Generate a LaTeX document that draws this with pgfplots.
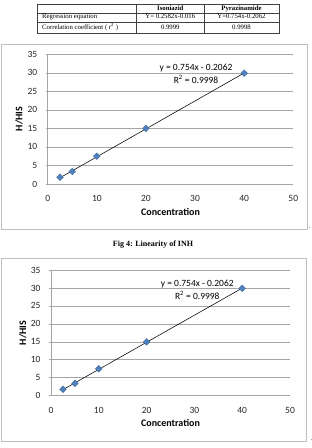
\documentclass[border=0pt]{standalone}
\usepackage{pgfplots}
\pgfplotsset{compat=1.18}
\usepackage{fontspec}
\setmainfont{Carlito}
\newfontfamily\tabfont{Liberation Serif}

\definecolor{markblue}{HTML}{4F81BD}
\definecolor{gridgray}{HTML}{A6A6A6}
\definecolor{framegray}{HTML}{BFBFBF}

% shared look of the two calibration plots
\pgfplotsset{
  calib/.style={
    scale only axis,
    anchor=south west,
    xmin=0, xmax=50, ymin=0, ymax=35,
    xtick={0,10,...,50}, ytick={0,5,...,35},
    axis lines*=left,
    axis line style={gridgray, line width=0.6pt},
    ymajorgrids,
    major grid style={gridgray, line width=0.6pt},
    x tick style={draw=none},
    y tick style={gridgray, line width=0.6pt},
    tick align=outside,
    major tick length=2pt,
    /pgf/number format/assume math mode=true,
    tick label style={font=\fontsize{9.5}{11}\selectfont, text=black!85},
    xticklabel style={yshift=-6pt},
    yticklabel style={xshift=-5pt},
    label style={font=\fontsize{10}{12}\selectfont\bfseries},
    clip=false,
  },
  datamarks/.style={only marks, mark=square*, mark size=2.4pt,
    mark options={rotate=45, fill=markblue, draw=markblue!80!black, line width=0.3pt}},
  fitline/.style={black, line width=0.55pt, no marks},
}

\begin{document}
\begin{tikzpicture}
\path[use as bounding box] (0pt,0pt) rectangle (312pt,448pt);

% ---- summary table ----
\begin{scope}[line width=0.5pt, black!75]
  \draw (37.3pt,443.7pt) rectangle (279pt,414.7pt);
  \draw (37.3pt,434.7pt) -- (279pt,434.7pt);
  \draw (37.3pt,426pt) -- (279pt,426pt);
  \draw (136.7pt,443.7pt) -- (136.7pt,414.7pt);
  \draw (204pt,443.7pt) -- (204pt,414.7pt);
\end{scope}
\begin{scope}[every node/.style={inner sep=0pt, font=\tabfont\fontsize{6.75}{7.5}\selectfont}]
  \node[anchor=base] at (170.3pt,437.3pt) {\bfseries Isoniazid};
  \node[anchor=base] at (241.5pt,437.3pt) {\bfseries Pyrazinamide};
  \node[anchor=base west] at (42pt,429pt) {Regression equation};
  \node[anchor=base] at (170.3pt,429pt) {Y= 0.2582x-0.016};
  \node[anchor=base] at (241.5pt,429pt) {Y=0.754x-0.2062};
  \node[anchor=base west] at (42pt,418.7pt) {Correlation coefficient (~r\textsuperscript{2}~)};
  \node[anchor=base] at (170.3pt,418.7pt) {0.9999};
  \node[anchor=base] at (241.5pt,418.7pt) {0.9998};
\end{scope}

% ---- first plot ----
\draw[framegray, line width=0.7pt] (1pt,219pt) rectangle (307pt,404pt);
\node[inner sep=0pt, font=\fontsize{6}{7}\selectfont] at (310pt,220pt) {.};
\begin{axis}[calib, at={(47.7pt,264pt)}, width=245.6pt, height=129.7pt,
  xlabel={Concentration}, ylabel={H/HIS},
  xlabel style={at={(axis description cs:0.5,-0.2136)}, anchor=center},
  ylabel style={at={(axis description cs:-0.1169,0.5)}, anchor=center}]
  \addplot[fitline] coordinates {(2.5,1.6788) (40,29.9538)};
  \addplot[datamarks] coordinates {(2.5,1.8) (5,3.4) (10,7.5) (20,15.0) (40,29.9)};
  \node[align=center, inner sep=0pt, font=\fontsize{9.5}{13}\selectfont]
    at (axis cs:30.2,29.85) {y = 0.754x - 0.2062\\R\textsuperscript{2} = 0.9998};
\end{axis}

% ---- caption ----
\node[font=\tabfont\bfseries\fontsize{8}{9}\selectfont] at (153pt,203pt) {Fig 4: Linearity of INH};

% ---- second plot ----
\draw[framegray, line width=0.7pt] (1pt,6.3pt) rectangle (306pt,190pt);
\node[inner sep=0pt, font=\fontsize{6}{7}\selectfont] at (311.5pt,8pt) {.};
\begin{axis}[calib, at={(51pt,52.3pt)}, width=239pt, height=125.7pt,
  xlabel={Concentration}, ylabel={H/HIS},
  xlabel style={at={(axis description cs:0.5,-0.22)}, anchor=center},
  ylabel style={at={(axis description cs:-0.118,0.5)}, anchor=center}]
  \addplot[fitline] coordinates {(2.5,1.6788) (40,29.9538)};
  \addplot[datamarks] coordinates {(2.5,1.8) (5,3.4) (10,7.5) (20,15.0) (40,29.9)};
  \node[align=center, inner sep=0pt, font=\fontsize{9.5}{13}\selectfont]
    at (axis cs:30.6,29.55) {y = 0.754x - 0.2062\\R\textsuperscript{2} = 0.9998};
\end{axis}
\end{tikzpicture}
\end{document}
